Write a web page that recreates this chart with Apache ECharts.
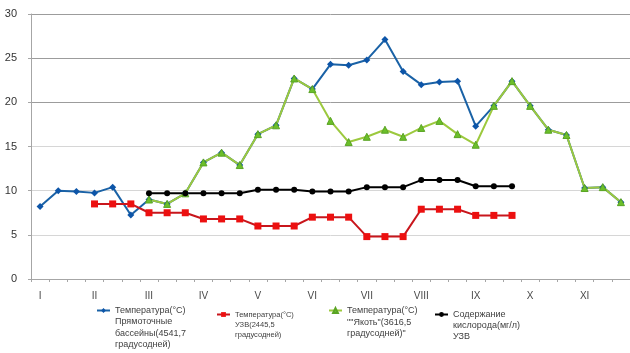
<!DOCTYPE html>
<html>
<head>
<meta charset="utf-8">
<script src="https://cdn.jsdelivr.net/npm/echarts@6/dist/echarts.min.js"></script>
<style>
  html, body { margin: 0; padding: 0; background: #fff; }
  #chart { width: 630px; height: 353px; }
</style>
</head>
<body>
<div id="chart"></div>
<script>
// Months of the season; each month is split into three decades
const months = ['I', 'II', 'III', 'IV', 'V', 'VI', 'VII', 'VIII', 'IX', 'X', 'XI'];
const decades = months.flatMap(m => [m + '.1', m + '.2', m + '.3']);

// Temperature, flow-through ponds (°C)
const tempPonds = [8.2, 10.0, 9.9, 9.75, 10.4, 7.25,
  9.0, 8.5, 9.7, 13.2, 14.3, 12.9, 16.4, 17.4, 22.7, 21.5,
  24.3, 24.2, 24.8, 27.1, 23.5, 22.0, 22.3, 22.4, 17.3,
  19.6, 22.4, 19.6, 16.9, 16.3, 10.3, 10.4, 8.7];

// Temperature, recirculating aquaculture system (°C)
const tempRAS = [null, null, null, 8.5, 8.5, 8.5, 7.5, 7.5, 7.5, 6.8, 6.8, 6.8,
  6.0, 6.0, 6.0, 7.0, 7.0, 7.0, 4.8, 4.8, 4.8, 7.9, 7.9, 7.9, 7.2, 7.2, 7.2,
  null, null, null, null, null, null];

// Temperature, "Якоть" (°C)
const tempYakot = [null, null, null, null, null, null,
  9.0, 8.5, 9.7, 13.2, 14.3, 12.9, 16.4, 17.4, 22.7, 21.5,
  17.9, 15.5, 16.1, 16.9, 16.1, 17.1, 17.9, 16.4, 15.2,
  19.6, 22.4, 19.6, 16.9, 16.3, 10.3, 10.4, 8.7];

// Dissolved oxygen in the RAS (mg/l)
const oxygenRAS = [null, null, null, null, null, null,
  9.7, 9.7, 9.7, 9.7, 9.7, 9.7, 10.1, 10.1, 10.1, 9.9, 9.9, 9.9,
  10.4, 10.4, 10.4, 11.2, 11.2, 11.2, 10.5, 10.5, 10.5,
  null, null, null, null, null, null];

// Y axis range
const yMin = 0, yMax = 30, yStep = 5;

const names = [
  'Температура(°C)\nПрямоточные\nбассейны(4541,7\nградусодней)',
  'Температура(°C)\nУЗВ(2445,5\nградусодней)',
  'Температура(°C)\n""Якоть"(3616,5\nградусодней)"',
  'Содержание\nкислорода(мг/л)\nУЗВ'
];

const FONT = '"Liberation Sans", Arial, sans-serif';

// A legend whose first text line sits level with its icon:
// blank lines are put in front so the first real line lands on the centre
function legendBlock(name, textX, iconY, fontSize, lh) {
  const n = name.split('\n').length;
  const B = (2 * n - 1) * lh;
  const iw = 13;
  return {
    data: [name],
    left: textX - iw - 5,
    top: iconY - B / 2,
    orient: 'vertical',
    padding: 0,
    itemWidth: iw,
    itemHeight: 6,
    selectedMode: false,
    formatter: s => '\n'.repeat(n - 1) + s,
    textStyle: {
      fontFamily: FONT,
      fontSize: fontSize,
      lineHeight: lh,
      color: '#404040'
    }
  };
}

const chart = echarts.init(document.getElementById('chart'), null, { renderer: 'canvas' });

chart.setOption({
  animation: false,
  backgroundColor: '#ffffff',
  grid: { left: 31, right: -6, top: 14, bottom: 74, containLabel: false },
  legend: [
    legendBlock(names[0], 114, 310.5, 9, 11.5),
    legendBlock(names[1], 234, 314.5, 7.5, 10.3),
    legendBlock(names[2], 346, 310.5, 9, 11.7),
    legendBlock(names[3], 452, 314.5, 9, 10.8)
  ],
  xAxis: {
    type: 'category',
    data: decades,
    boundaryGap: true,
    axisLine: { lineStyle: { color: '#a6a6a6', width: 1 } },
    axisTick: { show: true, interval: 0, length: 3, lineStyle: { color: '#a6a6a6' } },
    axisLabel: {
      interval: 2,
      margin: 12,
      fontFamily: FONT,
      fontSize: 10,
      color: '#4a4a4a',
      formatter: v => v.split('.')[0]
    },
    splitLine: { show: false }
  },
  yAxis: {
    type: 'value',
    min: yMin,
    max: yMax,
    interval: yStep,
    axisLine: { show: true, lineStyle: { color: '#a6a6a6', width: 1 } },
    axisTick: { show: true, length: 3, lineStyle: { color: '#a6a6a6' } },
    axisLabel: { margin: 14, fontFamily: FONT, fontSize: 11, color: '#333333' },
    splitLine: {
      show: true,
      lineStyle: {
        width: 1,
        color: ['#c8c8c8', '#d6d6d6', '#d6d6d6', '#d6d6d6', '#9c9c9c', '#9c9c9c', '#9c9c9c']
      }
    }
  },
  series: [
    {
      name: names[0],
      type: 'line',
      data: tempPonds,
      symbol: 'diamond',
      symbolSize: 7,
      connectNulls: false,
      lineStyle: { color: '#1a62a6', width: 2 },
      itemStyle: { color: '#0d55a8' }
    },
    {
      name: names[1],
      type: 'line',
      data: tempRAS,
      symbol: 'rect',
      symbolSize: 7,
      lineStyle: { color: '#c8161c', width: 2 },
      itemStyle: { color: '#ec1010' }
    },
    {
      name: names[2],
      type: 'line',
      data: tempYakot,
      symbol: 'triangle',
      symbolSize: 7,
      lineStyle: { color: '#9cc93e', width: 2 },
      itemStyle: { color: '#6bbf2a', borderColor: '#5aa424', borderWidth: 1 }
    },
    {
      name: names[3],
      type: 'line',
      data: oxygenRAS,
      symbol: 'circle',
      symbolSize: 6,
      lineStyle: { color: '#000000', width: 2 },
      itemStyle: { color: '#000000' }
    }
  ]
});
</script>
</body>
</html>
